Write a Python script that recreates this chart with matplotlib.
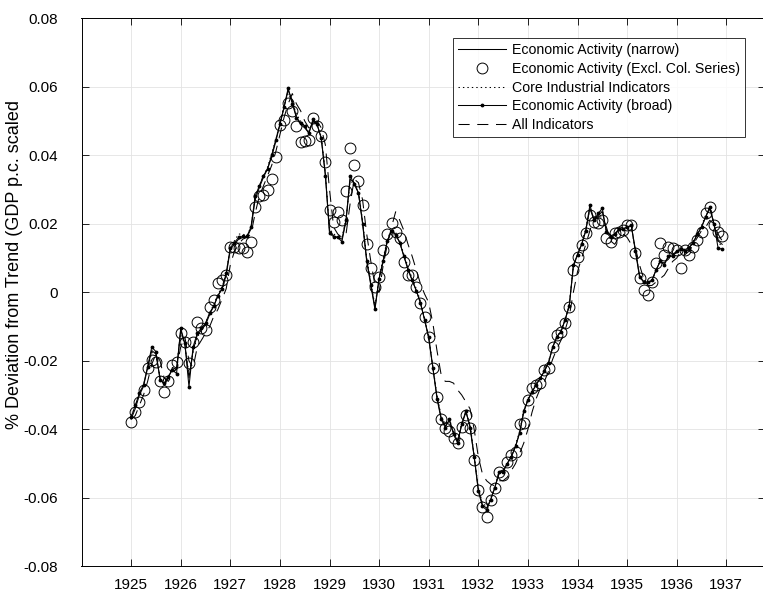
import numpy as np
import matplotlib
matplotlib.use('Agg')
import matplotlib.pyplot as plt

plt.rcParams['font.family'] = ['Liberation Sans', 'DejaVu Sans']
plt.rcParams['axes.unicode_minus'] = False
plt.rcParams['lines.scale_dashes'] = False

# monthly, Jan 1925 .. Dec 1936
start_year = 1925
n_months = 144
months = start_year + np.arange(n_months) / 12.0

# values in thousandths of GDP p.c. deviation
narrow = [
    -37, -34, -30, -27.5, -22, -17, -18, -25, -27, -25, -22, -22.5,
    -11, -15, -25, -17, -12.5, -11, -9.5, -6.5, -4, -1, 1, 5,
    12.5, 14, 15.5, 16, 16, 18.5, 27, 30.5, 33.5, 36, 39.5, 44,
    49, 54, 59, 56, 51, 49, 48, 46.5, 50, 49, 45, 34.5,
    18, 16.5, 16, 15.5, 21, 33, 32, 29, 20.5, 9.5, 2.5, -4.5,
    4, 9.5, 15, 18, 17, 14.5, 10.5, 7, 3.5, 0.5, -3, -8,
    -13.5, -22, -30.5, -36.5, -39, -37.5, -41, -43.5, -38.5, -35, -39, -48,
    -57.5, -62, -63, -60.5, -57, -53, -52, -50, -48, -45, -41, -35,
    -31.5, -29, -27, -25, -23, -20.5, -16, -13, -11.5, -8, -4, 7.5,
    11, 14, 18, 24.5, 21, 22.5, 23.5, 18, 16.5, 17, 18, 18.5,
    19, 19.5, 12.5, 5, 3, 2.5, 3.5, 6.5, 9, 8.5, 10.5, 11,
    12, 12.5, 12.5, 13, 14.5, 17, 19, 22, 24.5, 20, 15, 14]

excl_col = [
    -38, -35, -32, -28.5, -22, -19.8, -20.3, -26, -29, -26, -21.2, -20.3,
    -12, -14.4, -20.7, -14.4, -8.6, -10.5, -11, -4.2, -2.2, 2.6, 3.6, 5,
    13.3, 13.3, 12.8, 13, 11.9, 14.8, 25, 28, 28.4, 30, 33, 39.6,
    48.9, 50.3, 55.2, 52.8, 48.4, 44, 44.3, 44.5, 50.8, 48.4, 45.5, 37.9,
    24, 20.6, 23.5, 21.1, 29.7, 42.2, 37.2, 32.5, 25.5, 14.1, 7, 1.6,
    4.6, 12.4, 17, 20.3, 17.7, 15.8, 8.9, 5.1, 5.1, 1.6, -3.2, -7.1,
    -13.1, -22.2, -30.5, -37.1, -39.7, -40.5, -42.6, -44.1, -39.2, -35.8, -39.7, -48.8,
    -57.7, -62.6, -65.5, -60.7, -57, -52.4, -53.4, -49.5, -47.5, -46.6, -38.3, -38.1,
    -31.5, -28, -27, -26.6, -22.7, -22.2, -15.9, -12.5, -11.5, -9, -4.2, 6.5,
    10.4, 13.8, 17.2, 22.6, 20.6, 20.1, 21.1, 15.8, 14.8, 17.2, 17.7, 18.2,
    19.7, 19.7, 11.4, 4.1, 0.7, -0.8, 3.1, 8.5, 14.3, 10.9, 13.3, 12.8,
    12.4, 7, 12.4, 10.9, 13.3, 15.3, 17.7, 23.1, 25, 19.7, 17.7, 16.3]

core_ind = [
    -36, -33.5, -29.5, -27, -22.5, -17.5, -18.5, -24.5, -26, -24.5, -22, -22,
    -11.5, -15.5, -24, -17.5, -13, -11.5, -9, -6, -3.5, -0.5, 1.5, 5.5,
    13, 15, 17, 17, 16.5, 19, 27.5, 31, 34, 36.5, 40.5, 44.5,
    49.5, 54.5, 58, 55.5, 52, 50, 48.5, 47, 50, 48.5, 45.5, 35,
    18.5, 17, 16.5, 16, 21.5, 32.5, 31, 29.5, 21, 10, 3, -4,
    4.5, 10, 15.5, 18.5, 17.5, 15, 11, 7.5, 4, 1, -2.5, -7.5,
    -13, -21.5, -30, -36, -38.5, -37, -40.5, -43, -38, -35, -38.5, -47.5,
    -57, -61.5, -62.5, -60, -56.5, -53, -52, -50, -47.5, -44.5, -40.5, -34.5,
    -31, -28.5, -26.5, -25, -22.5, -20, -16, -13, -11, -8, -3.5, 7.5,
    11, 14.5, 18.5, 24.5, 21.5, 22.5, 24, 17.5, 15, 17, 18.5, 18.5,
    19.5, 19.5, 12, 5, 3.5, 3, 3.5, 6, 9.5, 8.5, 10, 11,
    12, 13, 12.5, 13.5, 15, 17.5, 19.5, 22.5, 24, 20.5, 14.5, 13.5]

broad = [
    -36.5, -33, -29.5, -27, -21.7, -16, -17.3, -25.6, -26.6, -24.6, -22.7, -23.7,
    -10.5, -14.9, -27.6, -15.9, -12, -10.5, -9, -6, -4, -1, 1, 5.5,
    13, 14.5, 16, 16.3, 16.3, 19, 28, 31, 34, 36, 40, 44.5,
    49, 54, 59.6, 55, 51, 49.5, 48.5, 46.4, 50.5, 49, 45, 34,
    17.2, 16.2, 16, 14.8, 21, 34, 31.5, 29, 20, 9, 2, -5,
    4, 9, 15, 18, 16.7, 14.5, 10.5, 6.5, 3.5, 0.5, -3.2, -8,
    -13, -22, -31, -37, -39.5, -37, -41.5, -44, -38.5, -34.5, -39.5, -48,
    -58, -62.5, -63.5, -60.5, -57, -52.5, -52.5, -50, -48, -45, -41, -34.5,
    -31.5, -29, -27, -25, -23, -20.5, -16, -13, -11.5, -8, -4, 8,
    11, 14, 18, 25.5, 21, 23, 24.5, 17.5, 16, 17, 18.5, 18.5,
    19, 19.5, 12, 4.5, 3, 3, 3.5, 6.5, 9, 8, 10.5, 10.5,
    12, 12.5, 12, 13, 14.5, 17, 19, 22, 25, 20, 13, 12.5]

all_ind = [
    -37, -36, -33, -30, -26, -21, -18, -20, -25, -26, -24, -22,
    -16, -13, -20, -22, -16, -14, -12, -10, -7, -5, -2, 1,
    8, 12, 14, 15.5, 16, 17, 23, 28, 31, 34, 37, 41,
    46, 51, 55, 58, 55, 53, 50, 48, 48, 50, 48, 43,
    30, 19, 17, 16, 17, 26, 33, 32, 27, 17, 9, 2,
    0, 8, 14, 19, 23.5, 21, 18, 14, 10.5, 6.5, 2.5, -0.5,
    -3, -9, -17, -24, -26, -26, -26.5, -28.5, -30, -32, -34, -40,
    -48, -53, -55, -56, -56.5, -55, -55, -54, -52, -50, -47, -44,
    -40, -35, -31, -28, -26, -23, -19.5, -16.5, -14, -11, -7, 0,
    6, 10, 14, 18, 22, 22, 22, 19, 15, 14, 16, 17,
    16, 14, 13, 8, 4, 2, 2, 3, 4, 5, 7, 9,
    10, 12, 11, 12, 14, 16, 18, 19, 21, 20, 17, 15]

year_ticks = list(range(1925, 1938))
y_ticks = [-0.08, -0.06, -0.04, -0.02, 0, 0.02, 0.04, 0.06, 0.08]
y_tick_labels = ['-0.08', '-0.06', '-0.04', '-0.02', '0', '0.02', '0.04', '0.06', '0.08']

fig = plt.figure(figsize=(7.63, 5.96), dpi=100)
ax = fig.add_axes([81.5 / 763, 1 - 566.4 / 596, (765 - 81.5) / 763, (566.4 - 18.2) / 596])

lw = 0.75
ax.plot(months, np.array(narrow) / 1000, color='black', lw=lw, label='Economic Activity (narrow)')
ax.plot(months, np.array(excl_col) / 1000, ls='none', marker='o', ms=7.8, mfc='none',
        mec='black', mew=0.7, label='Economic Activity (Excl. Col. Series)')
ax.plot(months, np.array(core_ind) / 1000, color='black', lw=lw, ls=(0, (1, 2.2)),
        label='Core Industrial Indicators')
ax.plot(months, np.array(broad) / 1000, color='black', lw=lw, marker='.', ms=3.5,
        label='Economic Activity (broad)')
ax.plot(months, np.array(all_ind) / 1000, color='black', lw=lw, ls=(0, (8, 5.5)),
        label='All Indicators')

ax.set_xlim(1924.0, 1937.78)
ax.set_ylim(-0.08, 0.08)
ax.set_xticks(year_ticks)
ax.set_xticklabels([str(y) for y in year_ticks])
ax.set_yticks(y_ticks)
ax.set_yticklabels(y_tick_labels)
ax.grid(True, color='#e3e3e3', lw=0.6)
ax.set_axisbelow(True)
ax.tick_params(direction='in', length=5, width=0.6, top=True, right=True,
               labelsize=11, colors='black')
ax.tick_params(axis='y', pad=17)
ax.tick_params(axis='x', pad=8)
for s in ax.spines.values():
    s.set_linewidth(0.7)

ax.set_ylabel('% Deviation from Trend (GDP p.c. scaled', fontsize=13)
ax.yaxis.set_label_coords(-0.085, 0.55)

leg = ax.legend(loc='upper right', bbox_to_anchor=((745 - 81.5) / 683.5, (566.4 - 38.3) / 548.2),
                fontsize=10.2, frameon=True, fancybox=False, edgecolor='black',
                handlelength=3.4, handletextpad=0.45, labelspacing=0.33,
                borderpad=0.35, borderaxespad=0)
leg.get_frame().set_linewidth(0.7)

fig.savefig('out.png', dpi=100)
